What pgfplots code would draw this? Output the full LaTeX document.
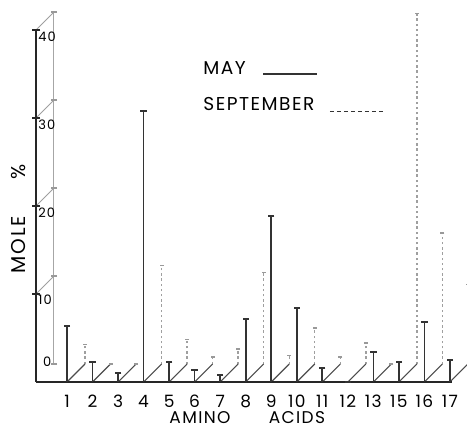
\documentclass[border=0pt]{standalone}
\usepackage{fontspec}
\setmainfont{Poppins}
\newfontfamily\lfont[LetterSpace=8]{Poppins}
\usepackage{pgfplots}
\pgfplotsset{compat=1.18}
\usepackage{pgfplotstable}

\pgfplotstableread{
x lab may sep
1 1 6.4 2.2
2 2 2.3 0
3 3 1.0 0
4 4 30.8 11.2
5 5 2.3 2.8
6 6 1.4 0.8
7 7 0.8 1.7
8 8 7.2 10.4
9 9 18.9 1.0
10 10 8.4 4.1
11 11 1.6 0.8
12 12 0 2.4
13 13 3.4 0
14 15 2.3 39.8
15 16 6.8 14.9
16 17 2.5 9.0
}\amino

\pgfplotstableread{
x v
-0.214 10
-0.214 20
-0.214 30
-0.214 40
}\fticks

\begin{document}
\begin{tikzpicture}
\begin{axis}[
  scale only axis, width=233.5pt, height=214pt,
  xmin=-1.624, xmax=16.668, ymin=-5.227, ymax=43.41,
  hide axis, clip=false]
% back axis
\addplot[gray!70, line width=0.5pt] coordinates {(0.491,2.045) (0.491,42.045)};
\addplot[only marks, mark=-, mark size=1.6pt, gray!80, mark options={line width=0.6pt}]
  coordinates {(0.491,2.045) (0.491,12.045) (0.491,22.045) (0.491,32.045) (0.491,42.045)};
% diagonals of the axis
\addplot[quiver={u=0.705,v=2.045}, gray!75, line width=0.5pt] table[x=x,y=v] {\fticks};
% September spikes
\addplot[quiver={u=0,v=\thisrow{sep}}, gray!75, line width=0.7pt, dash pattern=on 1.2pt off 1.4pt]
  table[x expr=\thisrow{x}+0.705, y expr=2.045] {\amino};
\addplot[only marks, mark=-, mark size=1pt, gray!80, mark options={line width=0.7pt}]
  table[x expr=\thisrow{x}+0.705, y expr=\thisrow{sep}+2.045] {\amino};
% diagonals of the categories
\addplot[quiver={u=0.705,v=2.045}, black!70, line width=0.55pt] table[x=x, y expr=0] {\amino};
% baseline and front axis
\addplot[black!85, line width=1pt] coordinates {(-0.214,0) (16.08,0)};
\addplot[black!85, line width=1.1pt] coordinates {(-0.214,0) (-0.214,40)};
\addplot[only marks, mark=-, mark size=2.2pt, black!85, mark options={line width=0.9pt}]
  table[x=x,y=v] {\fticks};
% May spikes
\addplot[ycomb, black!80, line width=0.8pt, mark=-, mark size=1.6pt, mark options={line width=0.9pt}]
  table[x=x, y=may] {\amino};

% tick labels
\begin{scope}[every node/.style={font=\lfont\fontsize{8.5}{9}\selectfont, inner sep=0pt}]
\node at (axis cs:1,-2.16) {1};
\node at (axis cs:2,-2.16) {2};
\node at (axis cs:3,-2.16) {3};
\node at (axis cs:4,-2.16) {4};
\node at (axis cs:5,-2.16) {5};
\node at (axis cs:6,-2.16) {6};
\node at (axis cs:7,-2.16) {7};
\node at (axis cs:8,-2.16) {8};
\node at (axis cs:9,-2.16) {9};
\node at (axis cs:10,-2.16) {10};
\node at (axis cs:11,-2.16) {11};
\node at (axis cs:12,-2.16) {12};
\node at (axis cs:13,-2.16) {13};
\node at (axis cs:14,-2.16) {15};
\node at (axis cs:15,-2.16) {16};
\node at (axis cs:16,-2.16) {17};
\node at (axis cs:6.21,-4.05) {AMINO};
\node at (axis cs:10.01,-4.05) {ACIDS};
\end{scope}
\begin{scope}[every node/.style={font=\lfont\fontsize{6.5}{7}\selectfont, inner sep=0pt}]
\node[anchor=west] at (axis cs:-0.136,39.2) {40};
\node[anchor=west] at (axis cs:-0.136,29.2) {30};
\node[anchor=west] at (axis cs:-0.136,19.2) {20};
\node[anchor=west] at (axis cs:-0.136,9.3) {10};
\node[anchor=east] at (axis cs:0.40,2.27) {0};
\end{scope}
\begin{scope}[every node/.style={font=\lfont\fontsize{10}{11}\selectfont, inner sep=0pt}]
\node[rotate=90] at (axis cs:-0.88,15.6) {MOLE};
\node[rotate=90] at (axis cs:-0.88,23.9) {\%};
\end{scope}
% legend
\begin{scope}[every node/.style={font=\lfont\fontsize{9.3}{10}\selectfont, inner sep=0pt}]
\node[anchor=west] at (axis cs:6.33,35.7) {MAY};
\node[anchor=west] at (axis cs:6.33,31.6) {SEPTEMBER};
\end{scope}
\draw[black!80, line width=0.6pt] (axis cs:8.68,35.0) -- (axis cs:10.79,35.0);
\draw[black!80, line width=0.6pt, dash pattern=on 2pt off 1.5pt] (axis cs:11.30,30.7) -- (axis cs:13.46,30.7);
\end{axis}
\pgfresetboundingbox
\path[use as bounding box] (current axis.south west) rectangle (current axis.north east);
\end{tikzpicture}
\end{document}
